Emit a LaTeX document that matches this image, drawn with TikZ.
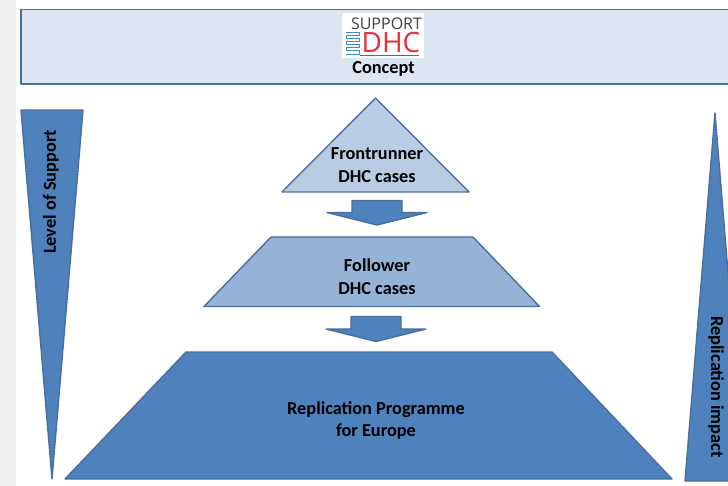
\documentclass[tikz,border=0pt]{standalone}
\usepackage{fontspec}
\setmainfont{Carlito}
\definecolor{edge}{HTML}{4A6F9C}
\definecolor{mainblue}{HTML}{4F81BD}
\definecolor{midblue}{HTML}{95B3D7}
\definecolor{lightblue}{HTML}{B8CCE4}
\definecolor{paleblue}{HTML}{DCE6F2}
\definecolor{greyband}{HTML}{F0F0F0}
\definecolor{logored}{HTML}{E8303A}
\definecolor{logoblue}{HTML}{3D8FC9}
\definecolor{logogrey}{HTML}{404040}
\tikzset{
  x=1pt,y=-1pt,
  shapeline/.style={draw=edge,line width=1.4pt,line join=round},
  caption/.style={font=\bfseries\fontsize{18.3}{22.8}\selectfont,text=black,align=center,inner sep=0pt},
  coil/.style={draw=logoblue,line width=.7pt,line join=round}
}
\begin{document}
\begin{tikzpicture}
\useasboundingbox (0,0) rectangle (728,486);
\begin{scope}
\clip (0,0) rectangle (728,486);
\fill[greyband] (0,0) rectangle (16,486);
\draw[shapeline,fill=paleblue] (21,9.5) rectangle (740,84);
\fill[white] (342,13.5) rectangle (423.5,58);
\node[inner sep=0pt,text=logogrey] (support) at (386.5,24) {\fontspec{Open Sans}\fontsize{16}{16}\selectfont SUPPORT};
\node[inner sep=0pt,text=logored] (dhc) at (391,42.5) {\fontspec{Open Sans}\fontsize{28}{28}\selectfont DHC};
\draw[logored,line width=.8pt] (360,55) -- (419,55);
\draw[coil] (346,32.5) -- (359,32.5) -- (359,35.5) -- (346,35.5) -- (346,38.5) -- (359,38.5) -- (359,41.5) -- (346,41.5) -- (346,44.5) -- (359,44.5) -- (359,47.5) -- (346,47.5) -- (346,50.5) -- (359,50.5) -- (359,54) -- (346,54);
\node[caption] (concept) at (383.5,69) {Concept};
\draw[shapeline,fill=mainblue] (21,110) -- (83,110) -- (52,479) -- cycle;
\node[caption,rotate=90] (support label) at (51,192) {Level of Support};
\draw[shapeline,fill=mainblue] (715,113) -- (685,481) -- (745,481) -- cycle;
\node[caption,rotate=-90] (impact label) at (716,387) {Replication impact};
\draw[shapeline,fill=lightblue] (375.5,98) -- (469,192) -- (282,192) -- cycle;
\node[caption] (front) at (377,165) {Frontrunner\\DHC cases};
\draw[shapeline,fill=mainblue] (352,200.5) -- (402,200.5) -- (402,212.5) -- (427,212.5) -- (377,225) -- (327,212.5) -- (352,212.5) -- cycle;
\draw[shapeline,fill=midblue] (271,237) -- (473,237) -- (539.5,306.5) -- (204,306.5) -- cycle;
\node[caption] (follower) at (377,276.5) {Follower\\DHC cases};
\draw[shapeline,fill=mainblue] (351,316.5) -- (401,316.5) -- (401,329) -- (426,329) -- (376,341.5) -- (326,329) -- (351,329) -- cycle;
\draw[shapeline,fill=mainblue] (186,352) -- (552,352) -- (672,479) -- (65,479) -- cycle;
\node[caption] (replication) at (376,420.5) {Replication Programme\\for Europe};
\end{scope}
\end{tikzpicture}
\end{document}
